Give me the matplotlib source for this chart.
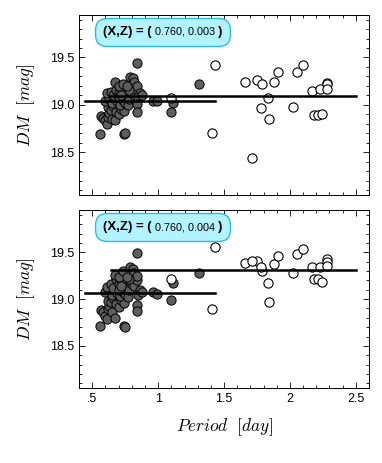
import numpy as np
import matplotlib
matplotlib.use('Agg')
import matplotlib.pyplot as plt
from matplotlib.ticker import MultipleLocator, FuncFormatter
from matplotlib.offsetbox import TextArea, HPacker, AnchoredOffsetbox

# Filled points (short period), top panel
per_fill = [0.56, 0.74, 0.75, 0.57, 0.58, 0.60, 0.61, 0.62, 0.63, 0.65, 0.67,
            0.62, 0.64, 0.66, 0.68, 0.70, 0.72, 0.74, 0.60, 0.63, 0.65, 0.67,
            0.69, 0.71, 0.73, 0.75, 0.77, 0.61, 0.64, 0.66, 0.68, 0.70, 0.72,
            0.74, 0.76, 0.78, 0.80, 0.82, 0.84, 0.67, 0.70, 0.73, 0.79, 0.81,
            0.82, 0.84, 0.86, 0.85, 0.84, 0.84, 0.78, 0.76, 0.88, 0.96, 0.99,
            1.11, 1.10, 1.31, 0.84, 0.70, 0.72]
dm_fill_top = [18.69, 18.69, 18.70, 18.88, 18.86, 18.84, 18.80, 18.87, 18.91, 18.85, 18.84,
               18.98, 18.95, 18.99, 18.93, 18.90, 18.96, 18.94, 19.04, 19.06, 19.02, 19.08,
               19.04, 19.00, 19.05, 19.02, 19.00, 19.12, 19.14, 19.10, 19.16, 19.12, 19.18,
               19.14, 19.10, 19.06, 19.12, 19.10, 19.16, 19.24, 19.20, 19.22, 19.29, 19.28,
               19.24, 19.20, 19.12, 19.08, 19.01, 18.93, 19.16, 19.20, 19.10, 19.04, 19.04,
               19.02, 18.93, 19.22, 19.44, 19.08, 19.10]
dm_fill_bot = [18.71, 18.71, 18.70, 18.88, 18.86, 18.82, 18.79, 18.89, 18.93, 18.86, 18.80,
               18.98, 18.97, 19.01, 18.95, 18.92, 18.99, 18.96, 19.08, 19.10, 19.04, 19.12,
               19.06, 19.03, 19.08, 19.05, 19.02, 19.13, 19.16, 19.12, 19.22, 19.16, 19.20,
               19.18, 19.12, 19.10, 19.16, 19.14, 19.20, 19.26, 19.24, 19.30, 19.34, 19.32,
               19.28, 19.25, 19.10, 19.04, 18.94, 18.87, 19.22, 19.24, 19.08, 19.08, 19.05,
               19.17, 18.99, 19.28, 19.49, 19.10, 19.14]

# Open points (long period)
per_open = [1.10, 1.43, 1.41, 1.66, 1.75, 1.79, 1.88, 1.91, 1.83, 1.78, 1.84, 1.71,
            2.02, 2.05, 2.10, 2.17, 2.23, 2.28, 2.28, 2.28, 2.18, 2.21, 2.24]
dm_open_top = [19.07, 19.42, 18.70, 19.24, 19.26, 19.22, 19.24, 19.35, 19.07, 18.97, 18.85, 18.44,
               18.98, 19.35, 19.42, 19.15, 19.17, 19.23, 19.22, 19.17, 18.89, 18.89, 18.90]
dm_open_bot = [19.22, 19.56, 18.89, 19.39, 19.41, 19.30, 19.37, 19.46, 19.17, 19.34, 18.97, 19.41,
               19.28, 19.48, 19.54, 19.34, 19.34, 19.43, 19.40, 19.35, 19.22, 19.21, 19.18]

# Mean lines: (x start, x end, level)
short_line = [(0.445, 1.43, 19.046), (0.445, 1.43, 19.064)]
long_line = [(0.635, 2.50, 19.096), (0.64, 2.50, 19.31)]
xz_vals = ['0.760, 0.003', '0.760, 0.004']

plt.rcParams['mathtext.fontset'] = 'cm'
plt.rcParams['font.family'] = ['Liberation Sans', 'DejaVu Sans']

fig = plt.figure(figsize=(3.82, 4.63), dpi=100)
ax1 = fig.add_axes([0.207, 0.579, 0.759, 0.389])
ax2 = fig.add_axes([0.207, 0.162, 0.759, 0.384])

panels = [(ax1, dm_fill_top, dm_open_top), (ax2, dm_fill_bot, dm_open_bot)]
for i, (ax, dmf, dmo) in enumerate(panels):
    ax.scatter(per_fill, dmf, s=44, facecolor='#5e5e5e', edgecolor='black', linewidth=0.7, zorder=3)
    ax.scatter(per_open, dmo, s=44, facecolor='white', edgecolor='black', linewidth=0.8, zorder=3)
    x0, x1, y = short_line[i]
    ax.plot([x0, x1], [y, y], color='black', lw=1.8, zorder=4)
    x0, x1, y = long_line[i]
    ax.plot([x0, x1], [y, y], color='black', lw=1.8, zorder=4)

    ax.set_xlim(0.4, 2.6)
    ax.set_ylim(18.05, 19.95)
    ax.xaxis.set_major_locator(MultipleLocator(0.5))
    ax.xaxis.set_minor_locator(MultipleLocator(0.1))
    ax.yaxis.set_major_locator(MultipleLocator(0.5))
    ax.yaxis.set_minor_locator(MultipleLocator(0.1))
    fmt = FuncFormatter(lambda v, p: ('%g' % v).lstrip('0') if v < 1 else '%g' % v)
    ax.xaxis.set_major_formatter(fmt)
    ax.tick_params(which='both', direction='in', top=True, right=True, labelsize=9, width=0.6)
    ax.tick_params(which='major', length=4)
    ax.tick_params(which='minor', length=2)
    for sp in ax.spines.values():
        sp.set_linewidth(0.7)
    ax.set_ylabel(r'$\mathit{DM}\ \ [\mathit{mag}]$', fontsize=12.5, labelpad=9)

    # (X,Z) label box
    pack = HPacker(children=[
        TextArea('(X,Z) = (', textprops=dict(fontsize=9.5, fontweight='bold')),
        TextArea(xz_vals[i], textprops=dict(fontsize=7.8)),
        TextArea(')', textprops=dict(fontsize=9.5, fontweight='bold')),
    ], align='baseline', pad=0, sep=2)
    box = AnchoredOffsetbox(loc='center', child=pack, pad=0.35, borderpad=0,
                            bbox_to_anchor=(0.288, 0.905), bbox_transform=ax.transAxes,
                            frameon=True)
    box.patch.set_boxstyle('round,pad=0.25,rounding_size=0.9')
    box.patch.set_facecolor('#b3f3ff')
    box.patch.set_edgecolor('#2fb8ee')
    box.patch.set_linewidth(1.0)
    ax.add_artist(box)

ax1.tick_params(labelbottom=False)
ax2.set_xlabel(r'$\mathit{Period}\ \ [\mathit{day}]$', fontsize=12.5, labelpad=8)

fig.savefig('out.png', dpi=100)
